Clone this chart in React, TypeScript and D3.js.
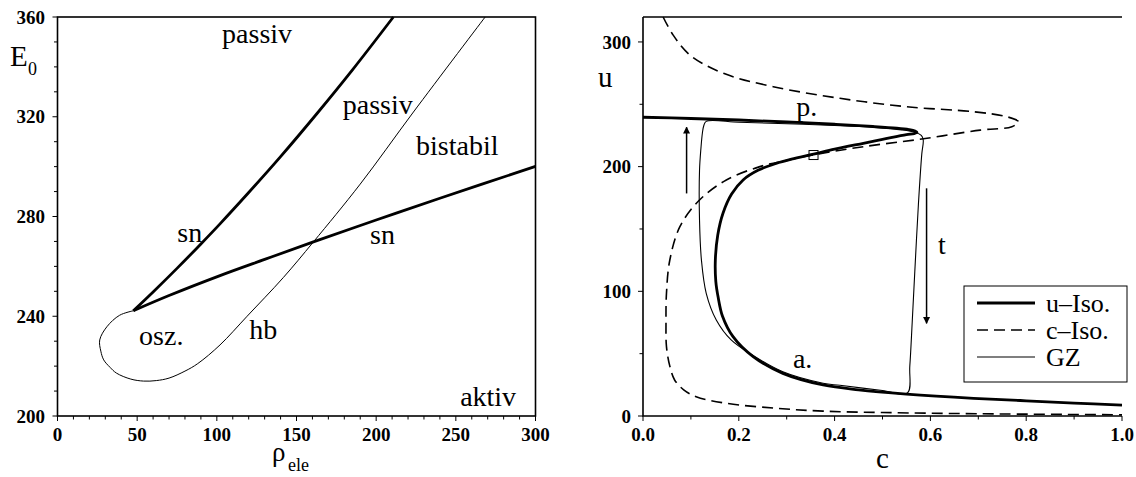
import * as d3 from 'd3'

// left panel: bifurcation diagram (rho_ele vs E0)
const rhoTicks = [0, 50, 100, 150, 200, 250, 300]
const e0Ticks = [200, 240, 280, 320, 360]

const snUpperRho = [47.6, 60, 75, 90, 102, 120, 140, 163, 185, 210.8]
const snUpperE = [242.2, 249.75, 259.2, 269.0, 277.05, 289.6, 304.0, 321.4, 338.7, 360]

const snLowerRho = [47.6, 70, 102, 130, 160.6, 200, 240, 300]
const snLowerE = [242.2, 248.3, 256.3, 262.8, 269.8, 278.6, 287.3, 300.1]

const hbRho = [47.6, 39, 31, 26.5, 27.2, 29, 33, 37, 46, 54, 62, 70, 80, 88, 102, 119, 141.7, 160.6, 190, 223.4, 268.4]
const hbE = [242.2, 240.4, 235.8, 230.5, 226, 222.5, 219.5, 217.2, 214.8, 214, 214.2, 215.2, 218, 221, 228.5, 240, 255.5, 269.8, 293, 321.9, 360]

const leftLabels = [
  { text: 'passiv', rho: 103.3, e: 349.6 },
  { text: 'passiv', rho: 179, e: 321.1 },
  { text: 'bistabil', rho: 225, e: 304.5 },
  { text: 'sn', rho: 75.2, e: 269.9 },
  { text: 'sn', rho: 196.2, e: 269.1 },
  { text: 'osz.', rho: 51.2, e: 228.5 },
  { text: 'hb', rho: 120.4, e: 230.7 },
  { text: 'aktiv', rho: 252.7, e: 204 }
]

// right panel: phase plane (c vs u)
const cTicks = [0, 0.2, 0.4, 0.6, 0.8, 1.0]
const uTicks = [0, 100, 200, 300]

const uIsoC = [0, 0.1, 0.2, 0.3, 0.4, 0.48, 0.53, 0.555, 0.568, 0.572, 0.566, 0.55, 0.5, 0.46, 0.4, 0.356, 0.31, 0.278, 0.24, 0.209, 0.185, 0.167, 0.156, 0.151, 0.152, 0.157, 0.166, 0.188, 0.23, 0.292, 0.376, 0.45, 0.55, 0.69, 0.8, 0.9, 1.0]
const uIsoU = [239.6, 238.6, 237.4, 235.8, 234, 232.2, 230.8, 229.7, 228.6, 227.6, 226.5, 225.7, 221.8, 218.7, 214, 210, 206, 202.6, 197, 189.3, 178, 162.6, 145, 125, 108, 95, 80, 63.6, 47.6, 34.2, 24.9, 21, 17.6, 14.2, 12.2, 10.4, 8.8]

const cIsoC = [0.042, 0.063, 0.098, 0.168, 0.272, 0.411, 0.551, 0.69, 0.76, 0.784, 0.77, 0.704, 0.578, 0.46, 0.356, 0.3, 0.244, 0.174, 0.118, 0.077, 0.056, 0.049, 0.048, 0.049, 0.056, 0.066, 0.085, 0.111, 0.174, 0.278, 0.376, 0.5, 0.7, 1.0]
const cIsoU = [320, 305.5, 289.5, 274.8, 264.1, 254.8, 248, 244, 240, 236, 232, 229.3, 221.9, 216, 209.5, 205, 200, 189.3, 173.2, 151.8, 125.1, 98.4, 75, 55.6, 40, 28.9, 21, 15.5, 10.2, 6.2, 3.9, 2.8, 1.8, 1.0]

const gzC = [0.132, 0.2, 0.3, 0.4, 0.48, 0.54, 0.568, 0.581, 0.585, 0.582, 0.575, 0.568, 0.562, 0.557, 0.552, 0.5, 0.411, 0.376, 0.292, 0.23, 0.184, 0.153, 0.132, 0.122, 0.118, 0.118, 0.121, 0.124, 0.127]
const gzU = [236.3, 235.6, 234.4, 233, 231.5, 229.5, 227.5, 225, 221.5, 210, 170, 120, 75, 40, 18.5, 20.5, 24.6, 26.3, 35.5, 48.5, 61, 77, 98.4, 125, 157, 197, 215, 227, 233]

const fixedPoint = { c: 0.356, u: 209.3 }
const arrows = [
  { c: 0.091, from: 178.5, to: 231.6 },
  { c: 0.592, from: 182.6, to: 74.3 }
]
const rightLabels = [
  { text: 'p.', c: 0.32, u: 240.4 },
  { text: 'a.', c: 0.313, u: 38.3 },
  { text: 't', c: 0.616, u: 129.9 }
]
const legendItems = ['u–Iso.', 'c–Iso.', 'GZ']

const serif = '"Liberation Serif", "Times New Roman", serif'

const App = () => {
  const xL = d3.scaleLinear().domain([0, 300]).range([57.5, 535.5])
  const yL = d3.scaleLinear().domain([200, 360]).range([416, 17])
  const xR = d3.scaleLinear().domain([0, 1]).range([643, 1122])
  const yR = d3.scaleLinear().domain([0, 320]).range([416, 17])

  const pathFrom = (xs: number[], ys: number[], sx: d3.ScaleLinear<number, number>, sy: d3.ScaleLinear<number, number>, closed = false) =>
    d3.line<[number, number]>()
      .x(d => sx(d[0]))
      .y(d => sy(d[1]))
      .curve(closed ? d3.curveCatmullRomClosed.alpha(0.5) : d3.curveCatmullRom.alpha(0.5))(d3.zip(xs, ys) as [number, number][]) || ''

  const tickFont = { fontFamily: serif, fontWeight: 'bold' as const, fontSize: 19 }
  const labelFont = { fontFamily: serif, fontSize: 28 }

  return (
    <div style={{ position: 'absolute', left: 0, top: 0 }}>
      <svg width={1136} height={477} style={{ display: 'block', background: '#fff' }}>
        <defs>
          <marker id="arrowhead" viewBox="0 0 10 10" refX="9" refY="5" markerWidth="7" markerHeight="11" markerUnits="userSpaceOnUse" orient="auto">
            <path d="M0,0 L10,5 L0,10 z" fill="#000" />
          </marker>
        </defs>

        {/* left panel */}
        <g>
          {d3.range(0, 301, 10).map(v => (
            <line key={'lxm' + v} x1={xL(v)} x2={xL(v)} y1={416} y2={rhoTicks.includes(v) ? 421 : 419.5} stroke="#000" strokeWidth={1} />
          ))}
          {d3.range(200, 361, 10).map(v => (
            <line key={'lym' + v} x1={57.5} x2={e0Ticks.includes(v) ? 52.5 : 54} y1={yL(v)} y2={yL(v)} stroke="#000" strokeWidth={1} />
          ))}
          {rhoTicks.map(v => (
            <text key={'lx' + v} x={xL(v)} y={441} textAnchor="middle" {...tickFont}>{v}</text>
          ))}
          {e0Ticks.map(v => (
            <text key={'ly' + v} x={45} y={yL(v)} dy="0.35em" textAnchor="end" {...tickFont}>{v}</text>
          ))}
          <rect x={57.5} y={17} width={478} height={399} fill="none" stroke="#000" strokeWidth={1.6} />

          <path d={pathFrom(hbRho, hbE, xL, yL)} fill="none" stroke="#000" strokeWidth={1} />
          <path d={pathFrom(snUpperRho, snUpperE, xL, yL)} fill="none" stroke="#000" strokeWidth={2.8} />
          <path d={pathFrom(snLowerRho, snLowerE, xL, yL)} fill="none" stroke="#000" strokeWidth={2.8} />

          {leftLabels.map((l, i) => (
            <text key={'ll' + i} x={xL(l.rho)} y={yL(l.e)} {...labelFont}>{l.text}</text>
          ))}

          <text x={10} y={66} fontFamily={serif} fontSize={29}>E</text>
          <text x={28} y={75} fontFamily={serif} fontSize={18}>0</text>
          <text x={272} y={461} fontFamily={serif} fontSize={27}>ρ</text>
          <text x={288} y={471} fontFamily={serif} fontSize={18}>ele</text>
        </g>

        {/* right panel */}
        <g>
          {d3.range(0, 11).map(i => (
            <line key={'rxm' + i} x1={xR(i / 10)} x2={xR(i / 10)} y1={416} y2={i % 2 === 0 ? 421 : 419.5} stroke="#000" strokeWidth={1} />
          ))}
          {d3.range(0, 301, 50).map(v => (
            <line key={'rym' + v} x1={643} x2={uTicks.includes(v) ? 638 : 639.5} y1={yR(v)} y2={yR(v)} stroke="#000" strokeWidth={1} />
          ))}
          {cTicks.map(v => (
            <text key={'rx' + v} x={xR(v)} y={441} textAnchor="middle" {...tickFont}>{v.toFixed(1)}</text>
          ))}
          {uTicks.map(v => (
            <text key={'ry' + v} x={631} y={yR(v)} dy="0.35em" textAnchor="end" {...tickFont}>{v}</text>
          ))}
          <path d={`M${xR(0)},${yR(320)} L${xR(0)},${yR(0)} L${xR(1)},${yR(0)}`} fill="none" stroke="#000" strokeWidth={1.6} />
          <line x1={xR(0)} x2={xR(1)} y1={yR(320)} y2={yR(320)} stroke="#000" strokeWidth={1.6} />

          <path d={pathFrom(cIsoC, cIsoU, xR, yR)} fill="none" stroke="#000" strokeWidth={1.6} strokeDasharray="11 6" />
          <path d={pathFrom(gzC, gzU, xR, yR, true)} fill="none" stroke="#000" strokeWidth={1.1} />
          <path d={pathFrom(uIsoC, uIsoU, xR, yR)} fill="none" stroke="#000" strokeWidth={2.8} />

          <rect x={xR(fixedPoint.c) - 4.5} y={yR(fixedPoint.u) - 4.5} width={9} height={9} fill="none" stroke="#000" strokeWidth={1} />

          {arrows.map((a, i) => (
            <line key={'ar' + i} x1={xR(a.c)} x2={xR(a.c)} y1={yR(a.from)} y2={yR(a.to)} stroke="#000" strokeWidth={1.5} markerEnd="url(#arrowhead)" />
          ))}

          {rightLabels.map((l, i) => (
            <text key={'rl' + i} x={xR(l.c)} y={yR(l.u)} {...labelFont}>{l.text}</text>
          ))}

          <text x={598} y={87} fontFamily={serif} fontSize={29}>u</text>
          <text x={876} y={468} fontFamily={serif} fontSize={29}>c</text>

          {/* legend */}
          <rect x={964} y={286} width={163} height={96} fill="#fff" stroke="#000" strokeWidth={1} />
          {legendItems.map((t, i) => {
            const y = 303 + i * 27
            return (
              <g key={'lg' + i}>
                <line x1={977} x2={1035} y1={y} y2={y} stroke="#000"
                  strokeWidth={i === 0 ? 2.8 : i === 1 ? 1.6 : 1.1}
                  strokeDasharray={i === 1 ? '11 6' : undefined} />
                <text x={1046} y={y + 9} fontFamily={serif} fontSize={26}>{t}</text>
              </g>
            )
          })}
        </g>
      </svg>
    </div>
  )
}

export default App
